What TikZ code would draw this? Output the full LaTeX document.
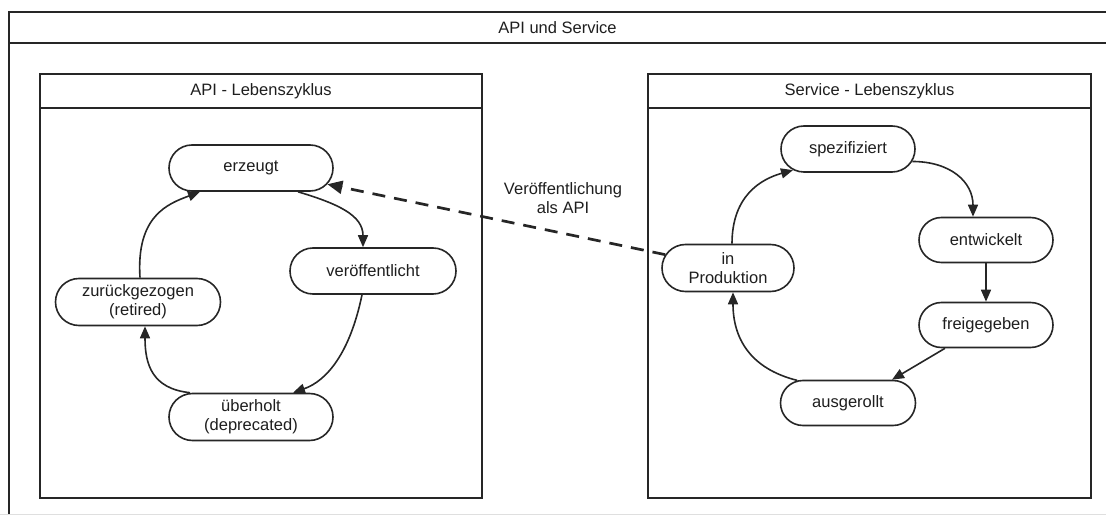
\documentclass[tikz,border=0pt]{standalone}
\usepackage{fontspec}
\setmainfont{Liberation Sans}
\usetikzlibrary{arrows.meta,shapes.misc}

\definecolor{ink}{HTML}{262626}
\definecolor{txt}{HTML}{1E1E1E}

\tikzset{
  frameline/.style={draw=ink, line width=1.8bp},
  state/.style={rounded rectangle, draw=ink, line width=1.6bp, fill=white,
    text=txt, align=center, inner sep=2bp,
    font=\fontsize{16.5bp}{19bp}\selectfont},
  title/.style={text=txt, font=\fontsize{16.5bp}{19bp}\selectfont, align=center},
  flow/.style={draw=ink, line width=1.6bp, -{Triangle[length=12bp,width=10bp]}},
  publish/.style={draw=ink, line width=2.7bp, dash pattern=on 13bp off 9bp,
    -{Triangle[length=15bp,width=13bp]}}
}

\begin{document}
\begin{tikzpicture}[x=1bp, y=-1bp]
\useasboundingbox (0,0) rectangle (1106,515);
\clip (0,0) rectangle (1106,515);

% outer container (its right and lower edges run past the page)
\draw[frameline] (1120,12) -- (9,12) -- (9,530);
\draw[frameline] (9,43) -- (1120,43);
\draw[gray!25, line width=0.8bp] (0,514) -- (1106,514);
\node[title] (outer) at (557.5,27.5) {API und Service};

% API life cycle container
\draw[frameline] (40,74) rectangle (482,498);
\draw[frameline] (40,108) -- (482,108);
\node[title] (apititle) at (261,91) {API - Lebenszyklus};

% service life cycle container
\draw[frameline] (648,74) rectangle (1091,498);
\draw[frameline] (648,108) -- (1091,108);
\node[title] (svctitle) at (869.5,91) {Service - Lebenszyklus};

% API states
\node[state, minimum width=168bp, minimum height=46bp] (erzeugt) at (251,168) {erzeugt};
\node[state, minimum width=170bp, minimum height=46bp] (veroeff) at (373,271) {veröffentlicht};
\node[state, minimum width=169bp, minimum height=47bp] (zurueck) at (138,302) {zurückgezogen\\(retired)};
\node[state, minimum width=168bp, minimum height=47bp] (ueberholt) at (251,417) {überholt\\(deprecated)};

% service states
\node[state, minimum width=138bp, minimum height=46bp] (spez) at (848,149) {spezifiziert};
\node[state, minimum width=138bp, minimum height=45bp] (entw) at (986,240) {entwickelt};
\node[state, minimum width=138bp, minimum height=45bp] (freig) at (986,325) {freigegeben};
\node[state, minimum width=139bp, minimum height=45bp] (ausg) at (848,403) {ausgerollt};
\node[state, minimum width=136bp, minimum height=47bp] (prod) at (728,268) {in\\Produktion};

% publication label
\node[title] (pubtxt) at (563,198) {Veröffentlichung\\als API};

% API cycle
\draw[flow] ([xshift=47bp]erzeugt.south) .. controls +(40,12) and +(0,-32) .. ([xshift=-10bp]veroeff.north);
\draw[flow] ([xshift=-11bp]veroeff.south) .. controls +(-12,58) and +(34,-12) .. ([xshift=42bp]ueberholt.north);
\draw[flow] ([xshift=-61bp]ueberholt.north) .. controls +(-38,-4) and +(0,38) .. ([xshift=7bp]zurueck.south);
\draw[flow] ([xshift=2bp]zurueck.north) .. controls +(-4,-62) and +(-32,12) .. ([xshift=-51bp]erzeugt.south);

% service cycle
\draw[flow] ([xshift=4bp]prod.north) .. controls +(0,-48) and +(-32,9) .. (spez.-159);
\draw[flow] (spez.-11) .. controls +(38,0) and +(0,-35) .. ([xshift=-13bp]entw.north);
\draw[flow] (entw.south) -- (freig.north);
\draw[flow] ([xshift=-41bp]freig.south) -- ([xshift=44bp]ausg.north);
\draw[flow] (ausg.156) .. controls +(-48,-12) and +(0,45) .. ([xshift=5bp]prod.south);

% publication as API
\draw[publish] (prod.168) -- (erzeugt.-12);
\end{tikzpicture}
\end{document}
